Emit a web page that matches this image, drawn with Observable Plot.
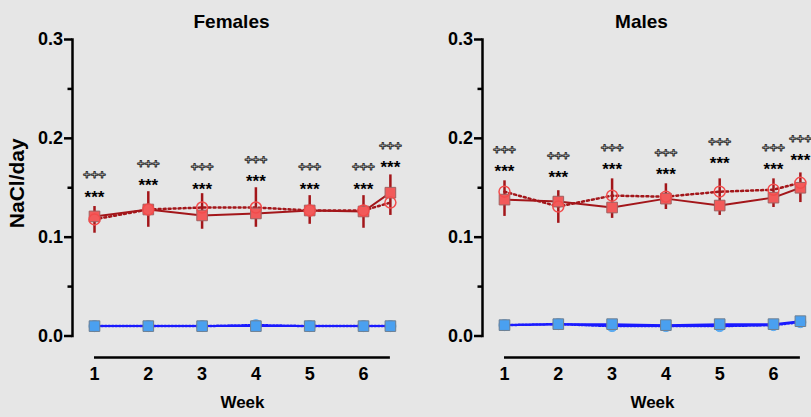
<!DOCTYPE html>
<html><head><meta charset="utf-8">
<script src="https://cdn.jsdelivr.net/npm/d3@7"></script>
<script src="https://cdn.jsdelivr.net/npm/@observablehq/plot@0.6"></script>
<style>
body{margin:0;background:#e6e6e6;}
#wrap{position:relative;width:811px;height:417px;overflow:hidden;background:#e6e6e6;}
#wrap>div{position:absolute;top:0;}
svg{max-width:none !important;}
</style></head><body>
<div id="wrap"><div id="f" style="left:0"></div><div id="m" style="left:410px"></div></div>
<script>
// ---- data ----
const weeks = [1, 2, 3, 4, 5, 6, 6.5];
const tickWeeks = [1, 2, 3, 4, 5, 6];
const yTicks = [0, 0.1, 0.2, 0.3];
const yMinorTicks = [0.05, 0.15, 0.25];
const titles = ["Females", "Males"];
const yLabel = "NaCl/day";
const xLabel = "Week";
const starText = "***";
const daggerText = "+++";

// Females
const femRedSquare = [0.121, 0.128, 0.122, 0.124, 0.127, 0.126, 0.145];
const femRedCircle = [0.118, 0.128, 0.130, 0.130, 0.127, 0.127, 0.135];
const femErrLow    = [0.104, 0.110, 0.108, 0.110, 0.113, 0.109, 0.122];
const femErrHigh   = [0.131, 0.146, 0.144, 0.150, 0.142, 0.142, 0.163];
const femBlueSquare = [0.010, 0.010, 0.010, 0.010, 0.010, 0.010, 0.010];
const femBlueCircle = [0.010, 0.010, 0.010, 0.011, 0.010, 0.010, 0.010];
const femStarY     = [0.145, 0.157, 0.153, 0.161, 0.153, 0.153, 0.175];

// Males
const maleRedSquare = [0.138, 0.136, 0.130, 0.139, 0.132, 0.140, 0.150];
const maleRedCircle = [0.146, 0.131, 0.142, 0.141, 0.146, 0.148, 0.155];
const maleErrLow    = [0.121, 0.114, 0.119, 0.128, 0.122, 0.130, 0.135];
const maleErrHigh   = [0.157, 0.147, 0.159, 0.154, 0.159, 0.159, 0.165];
const maleBlueSquare = [0.011, 0.012, 0.012, 0.011, 0.012, 0.012, 0.015];
const maleBlueCircle = [0.011, 0.012, 0.010, 0.010, 0.010, 0.011, 0.014];
const maleStarY      = [0.171, 0.165, 0.173, 0.168, 0.179, 0.173, 0.182];

const darkRed = "#a3161a";
const font = "'Liberation Sans', Arial, sans-serif";

function panel(title, sq, ci, lo, hi, bsq, bci, star, showYLabel) {
  const rows = weeks.map((w, i) => ({week: w, sq: sq[i], ci: ci[i], lo: lo[i], hi: hi[i], bsq: bsq[i], bci: bci[i], star: star[i]}));
  const axisSpan = [{a: weeks[0], b: weeks[weeks.length - 1], mid: (weeks[0] + weeks[weeks.length - 1]) / 2, z: 0}];
  const marks = [
    Plot.frame({anchor: "left", stroke: "#000", strokeWidth: 2.5}),
    Plot.axisY({ticks: yTicks, tickFormat: d3.format(".1f"), tickSize: 8, tickPadding: 1.5, fontSize: 18, fontWeight: "bold", strokeWidth: 2.5, label: null}),
    Plot.axisY({ticks: yMinorTicks, tickSize: 4.5, text: null, strokeWidth: 2.5, label: null}),
    Plot.axisX({ticks: tickWeeks, tickFormat: d3.format("d"), tickSize: 0, tickPadding: 31, fontSize: 18, fontWeight: "bold", label: null}),
    Plot.ruleY(axisSpan, {x1: "a", x2: "b", y: "z", dy: 21.5, stroke: "#000", strokeWidth: 2.5}),
    Plot.text(axisSpan, {x: "mid", text: () => xLabel, frameAnchor: "bottom", lineAnchor: "middle", dy: 67, fontSize: 17, fontWeight: "bold"}),
    // red series
    Plot.ruleX(rows, {x: "week", y1: "lo", y2: "hi", stroke: darkRed, strokeWidth: 2.5}),
    Plot.line(rows, {x: "week", y: "sq", stroke: darkRed, strokeWidth: 2}),
    Plot.line(rows, {x: "week", y: "ci", stroke: darkRed, strokeWidth: 2.5, strokeDasharray: "2,3"}),
    Plot.dot(rows, {x: "week", y: "sq", symbol: "square", r: 6, fill: "#f25a5a", stroke: "#a06060", strokeWidth: 1}),
    Plot.dot(rows, {x: "week", y: "ci", r: 5.5, fill: "none", stroke: "#f24c4c", strokeWidth: 1.5}),
    // blue series
    Plot.dot(rows, {x: "week", y: "bci", r: 5.5, fill: "#5aaaf0", stroke: "#5aaaf0", strokeWidth: 1}),
    Plot.line(rows, {x: "week", y: "bsq", stroke: "#1a1aff", strokeWidth: 2}),
    Plot.line(rows, {x: "week", y: "bci", stroke: "#1a1aff", strokeWidth: 2.5, strokeDasharray: "1.5,2"}),
    Plot.dot(rows, {x: "week", y: "bsq", symbol: "square", r: 6, fill: "#4aa0f0", stroke: "#6f7f90", strokeWidth: 1}),
    // annotations
    Plot.text(rows, {x: "week", y: "star", text: () => starText, fontSize: 17, fontWeight: "bold", fill: "#000", dy: 4.4}),
    Plot.text(rows, {x: "week", y: "star", text: () => daggerText, fontSize: 13, fontWeight: "bold", fill: "none", stroke: "#222", strokeWidth: 0.9, dy: -17.5}),
    // title
    Plot.text([title], {frameAnchor: "top", lineAnchor: "middle", dy: -18, fontSize: 19, fontWeight: "bold"})
  ];
  if (showYLabel) {
    marks.push(Plot.text([yLabel], {frameAnchor: "left", textAnchor: "middle", lineAnchor: "middle", rotate: -90, dx: -55, dy: -4.5, fontSize: 21, fontWeight: "bold"}));
  }
  return Plot.plot({
    width: 400, height: 417,
    marginTop: 39, marginBottom: 81.5, marginLeft: 72, marginRight: 10,
    style: {fontFamily: font, background: "transparent", overflow: "visible", color: "#000"},
    x: {domain: [0.591, 6.502]},
    y: {domain: [0, 0.3]},
    marks
  });
}

document.getElementById("f").appendChild(panel(titles[0], femRedSquare, femRedCircle, femErrLow, femErrHigh, femBlueSquare, femBlueCircle, femStarY, true));
document.getElementById("m").appendChild(panel(titles[1], maleRedSquare, maleRedCircle, maleErrLow, maleErrHigh, maleBlueSquare, maleBlueCircle, maleStarY, false));
</script>
</body></html>
